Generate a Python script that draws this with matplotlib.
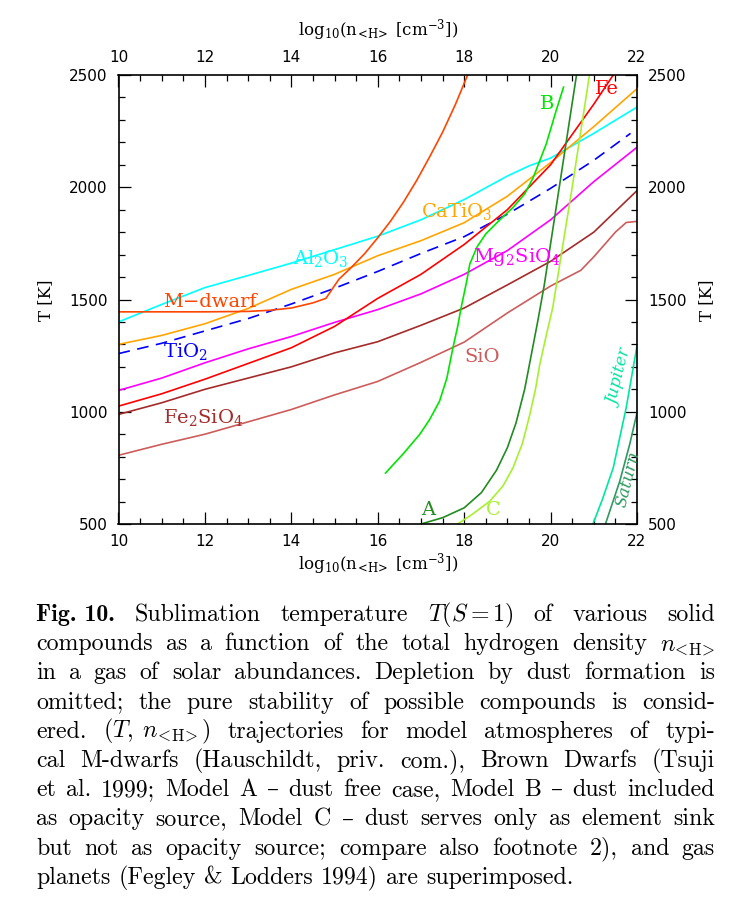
import matplotlib
matplotlib.use("Agg")
import matplotlib.pyplot as plt
from matplotlib.ticker import MultipleLocator

# ---------------- data (log10 n_<H>, T [K]) ----------------
al2o3_x = [10, 11, 12, 13, 14, 15, 16, 17, 18, 19, 19.5, 20, 21, 22]
al2o3_T = [1400, 1478, 1553, 1607, 1662, 1722, 1782, 1855, 1945, 2050, 2095, 2130, 2240, 2357]

catio3_x = [10, 11, 12, 13, 14, 15, 16, 17, 18, 19, 20, 21, 22]
catio3_T = [1300, 1340, 1392, 1460, 1545, 1612, 1695, 1762, 1842, 1960, 2110, 2270, 2439]

tio2_x = [10, 11, 12, 13, 14, 15, 16, 17, 18, 19, 20, 21, 21.85]
tio2_T = [1259, 1305, 1360, 1415, 1480, 1550, 1625, 1705, 1780, 1880, 1995, 2120, 2240]

mg2sio4_x = [10, 11, 12, 13, 14, 15, 16, 17, 18, 19, 20, 21, 22]
mg2sio4_T = [1095, 1150, 1218, 1280, 1335, 1398, 1455, 1525, 1612, 1718, 1855, 2025, 2178]

fe_x = [10, 11, 12, 13, 14, 15, 16, 17, 18, 19, 20, 21, 21.45]
fe_T = [1025, 1080, 1145, 1215, 1285, 1380, 1505, 1612, 1745, 1900, 2100, 2370, 2500]

fe2sio4_x = [10, 11, 12, 13, 14, 15, 16, 17, 18, 19, 20, 21, 22]
fe2sio4_T = [988, 1040, 1100, 1150, 1200, 1262, 1312, 1385, 1462, 1565, 1670, 1800, 1985]

sio_x = [10, 11, 12, 13, 14, 15, 16, 17, 18, 19, 20, 20.7, 21, 21.5, 21.75, 22]
sio_T = [806, 855, 900, 955, 1010, 1075, 1135, 1220, 1310, 1440, 1560, 1630, 1690, 1800, 1843, 1848]

mdwarf_x = [10, 11, 12, 13, 13.5, 14, 14.5, 14.8, 15.1, 15.4, 15.7, 16, 16.3, 16.6,
            16.9, 17.2, 17.5, 17.8, 18.08]
mdwarf_T = [1445, 1445, 1445, 1447, 1452, 1462, 1485, 1505, 1590, 1645, 1705, 1775, 1850, 1935,
            2030, 2135, 2245, 2370, 2500]

bd_b_x = [16.18, 16.6, 16.97, 17.2, 17.43, 17.6, 17.74, 17.85, 17.93, 18.06, 18.13, 18.3,
          18.5, 18.8, 19.13, 19.4, 19.6, 19.9, 20.13, 20.3]
bd_b_T = [727, 815, 899, 965, 1047, 1150, 1285, 1380, 1464, 1583, 1658, 1735, 1792, 1850,
          1910, 1970, 2044, 2193, 2342, 2446]

bd_a_x = [17.0, 17.5, 18.0, 18.4, 18.75, 19.0, 19.2, 19.4, 19.55, 19.7, 19.85, 20.6]
bd_a_T = [500, 528, 572, 640, 740, 840, 950, 1100, 1250, 1400, 1560, 2500]

bd_c_x = [17.85, 18.2, 18.59, 18.9, 19.13, 19.35, 19.52, 19.65, 19.75, 19.9, 20.05, 20.5, 20.9]
bd_c_T = [500, 545, 601, 670, 750, 860, 988, 1100, 1211, 1340, 1464, 2000, 2500]

jupiter_x = [20.98, 21.2, 21.45, 21.75, 22.0]
jupiter_T = [500, 610, 750, 1018, 1293]

saturn_x = [21.27, 21.6, 21.83, 22.0]
saturn_T = [500, 690, 854, 995]

x_ticks = [10, 12, 14, 16, 18, 20, 22]
y_ticks = [500, 1000, 1500, 2000, 2500]

caption_lines = [
    r"Fig. 10. Sublimation temperature $T(S=1)$ of various solid",
    r"compounds as a function of the total hydrogen density $n_{\!<\!\mathrm{H}\!>}$",
    r"in a gas of solar abundances. Depletion by dust formation is",
    r"omitted; the pure stability of possible compounds is consid-",
    r"ered. $(T,\;n_{\!<\!\mathrm{H}\!>})$ trajectories for model atmospheres of typi-",
    r"cal M-dwarfs (Hauschildt, priv. com.), Brown Dwarfs (Tsuji",
    r"et al. 1999; Model A – dust free case, Model B – dust included",
    r"as opacity source, Model C – dust serves only as element sink",
    r"but not as opacity source; compare also footnote 2), and gas",
    r"planets (Fegley & Lodders 1994) are superimposed.",
]

# ---------------- figure ----------------
W, H = 730, 902
fig = plt.figure(figsize=(W / 100, H / 100), dpi=100)
fig.patch.set_facecolor("white")

L, R, T, B = 118.5, 637, 75, 524
ax = fig.add_axes([L / W, 1 - B / H, (R - L) / W, (B - T) / H])
ax.set_xlim(10, 22)
ax.set_ylim(500, 2500)

lw = 1.2
ax.plot(al2o3_x, al2o3_T, color="#00ffff", lw=lw)
ax.plot(catio3_x, catio3_T, color="#ffa500", lw=lw)
ax.plot(tio2_x, tio2_T, color="#0000ff", lw=lw, linestyle=(0, (7, 4.5)))
ax.plot(mg2sio4_x, mg2sio4_T, color="#ff00ff", lw=lw)
ax.plot(fe_x, fe_T, color="#ff0000", lw=lw)
ax.plot(fe2sio4_x, fe2sio4_T, color="#a52a2a", lw=lw)
ax.plot(sio_x, sio_T, color="#cd5c5c", lw=lw)
ax.plot(mdwarf_x, mdwarf_T, color="#ff4500", lw=lw)
ax.plot(bd_b_x, bd_b_T, color="#00e600", lw=lw)
ax.plot(bd_a_x, bd_a_T, color="#228b22", lw=lw)
ax.plot(bd_c_x, bd_c_T, color="#a6f030", lw=lw)
ax.plot(jupiter_x, jupiter_T, color="#00e6a0", lw=lw)
ax.plot(saturn_x, saturn_T, color="#2e9a60", lw=lw)

lab = dict(family="DejaVu Serif", fontsize=14, math_fontfamily="dejavuserif",
           va="baseline", ha="left")
ax.text(14.04, 1660, r"Al$_2$O$_3$", color="#00ffff", **lab)
ax.text(17.01, 1866, r"CaTiO$_3$", color="#ffa500", **lab)
ax.text(11.03, 1467, "M\u2212dwarf", color="#ff4500", **lab)
ax.text(11.03, 1244, r"TiO$_2$", color="#0000ff", **lab)
ax.text(11.03, 950, r"Fe$_2$SiO$_4$", color="#a52a2a", **lab)
ax.text(18.2, 1665, r"Mg$_2$SiO$_4$", color="#ff00ff", **lab)
ax.text(18.01, 1221, "SiO", color="#cd5c5c", **lab)
ax.text(21.02, 2416, "Fe", color="#ff0000", **lab)
ax.text(19.75, 2349, "B", color="#00e600", **lab)
ax.text(17.01, 542, "A", color="#228b22", **lab)
ax.text(18.51, 542, "C", color="#a6f030", **lab)
ax.text(21.62, 1150, "Jupiter", color="#00e6a0", family="DejaVu Serif", style="italic",
        fontsize=12, rotation=76, ha="center", va="center")
ax.text(21.8, 698, "Saturn", color="#2e9a60", family="DejaVu Serif", style="italic",
        fontsize=12, rotation=76, ha="center", va="center")

# axes styling
ax.set_xticks(x_ticks)
ax.set_yticks(y_ticks)
ax.xaxis.set_minor_locator(MultipleLocator(0.5))
ax.yaxis.set_minor_locator(MultipleLocator(100))
ax.tick_params(which="both", direction="in", top=True, right=True,
               labeltop=True, labelright=True, width=0.9, colors="black")
ax.tick_params(which="major", length=8.5)
ax.tick_params(which="minor", length=4.3)
ax.tick_params(axis="x", which="major", pad=7)
ax.tick_params(axis="y", which="major", pad=8)
for lbl in ax.get_xticklabels() + ax.get_yticklabels():
    lbl.set_family("DejaVu Sans")
    lbl.set_fontsize(11)
for s in ax.spines.values():
    s.set_linewidth(1.2)

xlab = r"log$_{10}$(n$_{\!<\!\mathrm{H}\!>}$ [cm$^{-3}$])"
axlab = dict(family="DejaVu Serif", fontsize=12, math_fontfamily="dejavuserif",
             ha="center", va="center")
cx = (L + R) / 2 / W
fig.text(cx, 1 - 30 / H, xlab, **axlab)
fig.text(cx, 1 - 564 / H, xlab, **axlab)
fig.text(46 / W, 1 - 300 / H, "T [K]", rotation=90, **axlab)
fig.text(707 / W, 1 - 300 / H, "T [K]", rotation=90, **axlab)

# ---------------- caption (justified) ----------------
renderer = fig.canvas.get_renderer()
cap_left, cap_right = 36, 715
base0, step = 621, 29.2
fs = 17.2


def make(tok, bold):
    fam = ["cmb10", "DejaVu Serif"] if bold else ["cmr10", "DejaVu Serif"]
    return fig.text(0, 0, tok, family=fam, fontsize=fs, math_fontfamily="cm",
                    va="baseline", ha="left", color="black")


sp = make("a a", False)
sp2 = make("aa", False)
space_w = sp.get_window_extent(renderer).width - sp2.get_window_extent(renderer).width
sp.remove()
sp2.remove()

for i, line in enumerate(caption_lines):
    toks = line.split(" ")
    bold = [False] * len(toks)
    if i == 0:
        toks = [toks[0] + " " + toks[1]] + toks[2:]
        bold = [True] + [False] * (len(toks) - 1)
    objs = [make(t, b) for t, b in zip(toks, bold)]
    widths = [o.get_window_extent(renderer).width for o in objs]
    if i < len(caption_lines) - 1 and len(toks) > 1:
        gap = (cap_right - cap_left - sum(widths)) / (len(toks) - 1)
    else:
        gap = space_w
    x = cap_left
    y = 1 - (base0 + i * step) / H
    for o, w in zip(objs, widths):
        o.set_position((x / W, y))
        x += w + gap

fig.savefig("out.png", dpi=100, facecolor="white")
